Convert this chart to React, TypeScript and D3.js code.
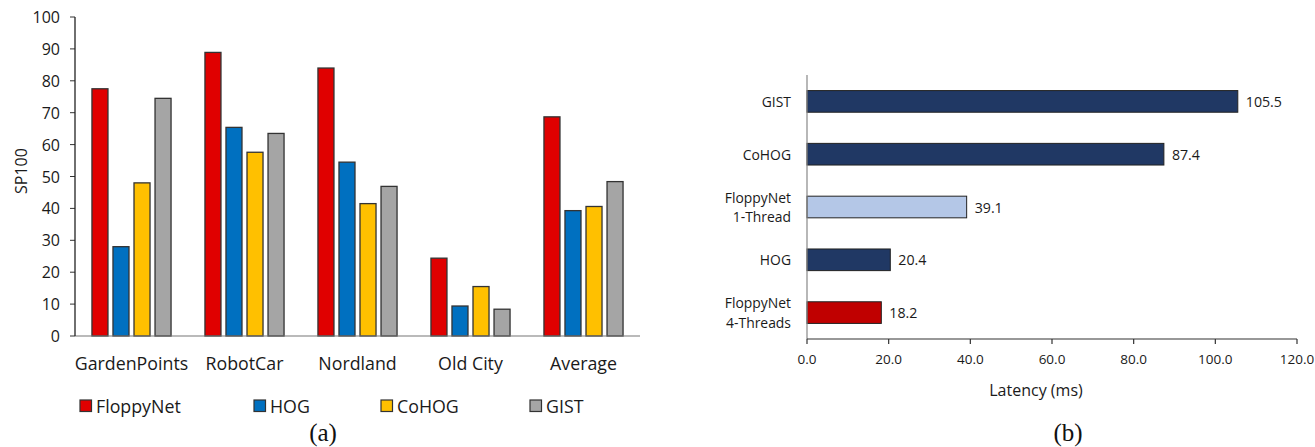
import React from "react";
import * as d3 from "d3";

const datasets = ["GardenPoints", "RobotCar", "Nordland", "Old City", "Average"];
const methods = ["FloppyNet", "HOG", "CoHOG", "GIST"];
const floppyNet = [77.5, 88.9, 84.0, 24.4, 68.7];
const hog = [28.0, 65.4, 54.5, 9.4, 39.3];
const cohog = [48.0, 57.6, 41.5, 15.5, 40.6];
const gist = [74.5, 63.5, 46.9, 8.4, 48.4];
const methodColors = ["#e00000", "#0070c0", "#ffc000", "#a5a5a5"];
const yTicksA = [0, 10, 20, 30, 40, 50, 60, 70, 80, 90, 100];

const latencyLabels = [["GIST"], ["CoHOG"], ["FloppyNet", "1-Thread"], ["HOG"], ["FloppyNet", "4-Threads"]];
const latencyValues = [105.5, 87.4, 39.1, 20.4, 18.2];
const latencyColors = ["#203864", "#203864", "#b4c7e7", "#203864", "#c00000"];
const xTicksB = [0, 20, 40, 60, 80, 100, 120];

const FONT = "'Open Sans', sans-serif";

export default function App() {
  const seriesValues = [floppyNet, hog, cohog, gist];

  // Chart (a)
  const x0 = d3.scaleBand<string>().domain(datasets).range([75, 640]).padding(0);
  const bw = x0.bandwidth();
  const x1 = d3.scaleBand<string>().domain(methods).range([bw * 0.15, bw * 0.85]).paddingInner(5 / 21).paddingOuter(0);
  const yA = d3.scaleLinear().domain([0, 100]).range([336, 17]);

  // Chart (b)
  const keysB = latencyLabels.map((l) => l.join(" "));
  const yB = d3.scaleBand<string>().domain(keysB).range([75, 339]).paddingInner(0.59).paddingOuter(0.295);
  const xB = d3.scaleLinear().domain([0, 120]).range([807, 1297]);

  const legendX = [80, 254, 381, 530];

  return (
    <svg width={1315} height={447} style={{ position: "absolute", left: 0, top: 0, background: "#fff" }} fontFamily={FONT}>
      {/* ===== Chart (a) ===== */}
      {yTicksA.map((t) => (
        <g key={"ya" + t}>
          <line x1={70} x2={75} y1={yA(t)} y2={yA(t)} stroke="#333" strokeWidth={1} />
          <text x={60} y={yA(t)} textAnchor="end" dominantBaseline="central" fontSize={16} fill="#1a1a1a">
            {t}
          </text>
        </g>
      ))}
      <text transform={`translate(21,171) rotate(-90)`} textAnchor="middle" dominantBaseline="central" fontSize={16} fill="#1a1a1a">
        SP100
      </text>
      {datasets.map((ds, i) => (
        <g key={ds} transform={`translate(${x0(ds)},0)`}>
          {methods.map((m, j) => {
            const v = seriesValues[j][i];
            return (
              <rect
                key={m}
                x={x1(m)}
                y={yA(v)}
                width={x1.bandwidth()}
                height={yA(0) - yA(v)}
                fill={methodColors[j]}
                stroke="#333"
                strokeWidth={1.3}
              />
            );
          })}
          <text x={bw / 2} y={370} textAnchor="middle" fontSize={17.8} fill="#1a1a1a">
            {ds}
          </text>
        </g>
      ))}
      <line x1={75} x2={640} y1={yA(0)} y2={yA(0)} stroke="#777" strokeWidth={1.2} />
      <line x1={75} x2={75} y1={yA(100)} y2={yA(0)} stroke="#222" strokeWidth={1.3} />
      {methods.map((m, j) => (
        <g key={"lg" + m}>
          <rect x={legendX[j]} y={400} width={11.5} height={11.5} fill={methodColors[j]} stroke="#333" strokeWidth={1.2} />
          <text x={legendX[j] + 16} y={406} dominantBaseline="central" fontSize={17.8} fill="#1a1a1a">
            {m}
          </text>
        </g>
      ))}
      <text x={323} y={441} textAnchor="middle" fontFamily="'Liberation Serif', 'Times New Roman', serif" fontSize={25} fill="#111">
        (a)
      </text>

      {/* ===== Chart (b) ===== */}
      {keysB.map((k, i) => {
        const y = yB(k)!;
        const h = yB.bandwidth();
        const v = latencyValues[i];
        const lines = latencyLabels[i];
        const cy = y + h / 2;
        return (
          <g key={k}>
            <rect x={xB(0)} y={y} width={xB(v) - xB(0)} height={h} fill={latencyColors[i]} stroke="#222" strokeWidth={1} />
            <text x={xB(v) + 8} y={cy} dominantBaseline="central" fontSize={14.2} fill="#1a1a1a">
              {v.toFixed(1)}
            </text>
            {lines.map((ln, li) => (
              <text
                key={ln}
                x={791}
                y={cy + (li - (lines.length - 1) / 2) * 19.3}
                textAnchor="end"
                dominantBaseline="central"
                fontSize={13.9}
                fill="#1a1a1a"
              >
                {ln}
              </text>
            ))}
          </g>
        );
      })}
      <line x1={xB(0)} x2={xB(0)} y1={75} y2={339} stroke="#888" strokeWidth={1.2} />
      <line x1={xB(0)} x2={xB(120)} y1={339} y2={339} stroke="#333" strokeWidth={1.2} />
      {xTicksB.map((t) => (
        <g key={"xb" + t}>
          <line x1={xB(t)} x2={xB(t)} y1={339} y2={344} stroke="#333" strokeWidth={1.2} />
          <text x={xB(t)} y={359} textAnchor="middle" dominantBaseline="central" fontSize={13.5} fill="#1a1a1a">
            {t.toFixed(1)}
          </text>
        </g>
      ))}
      <text x={1036} y={390} textAnchor="middle" dominantBaseline="central" fontSize={16} fill="#1a1a1a">
        Latency (ms)
      </text>
      <text x={1068} y={441} textAnchor="middle" fontFamily="'Liberation Serif', 'Times New Roman', serif" fontSize={25} fill="#111">
        (b)
      </text>
    </svg>
  );
}
